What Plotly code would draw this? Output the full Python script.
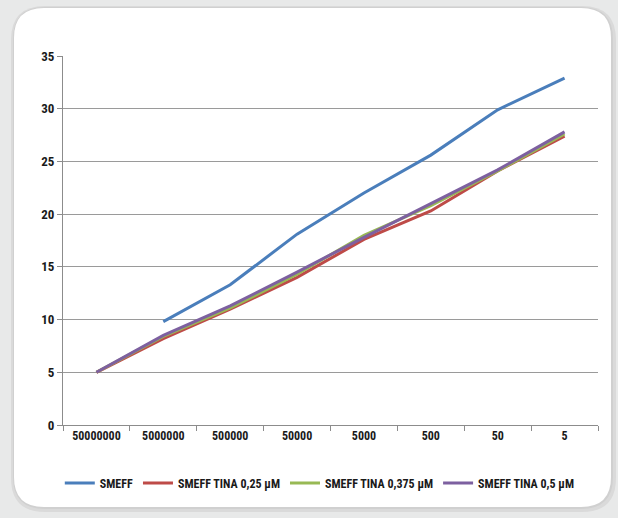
import plotly.graph_objects as go

categories = ["50000000", "5000000", "500000", "50000", "5000", "500", "50", "5"]
smeff = [None, 9.8, 13.3, 18.1, 22.0, 25.6, 29.9, 32.9]
tina_025 = [5.0, 8.2, 11.0, 14.0, 17.6, 20.3, 24.1, 27.4]
tina_0375 = [5.0, 8.4, 11.1, 14.3, 18.0, 20.8, 24.1, 27.6]
tina_05 = [5.0, 8.5, 11.3, 14.5, 17.8, 21.0, 24.2, 27.8]

series = [
    ("SMEFF", smeff, "#4A7EBB"),
    ("SMEFF TINA 0,25 µM", tina_025, "#BE4B48"),
    ("SMEFF TINA 0,375 µM", tina_0375, "#98B954"),
    ("SMEFF TINA 0,5 µM", tina_05, "#7D60A0"),
]

FONT = "Liberation Sans Narrow, Arial Narrow, Roboto Condensed, Roboto, sans-serif"

fig = go.Figure()
for name, vals, col in series:
    fig.add_trace(go.Scatter(x=categories, y=vals, name=name, mode="lines",
                             line=dict(color=col, width=3), connectgaps=False))

# plot area in pixels
L, R, T, B = 63, 598, 56, 425
W, H = R - L, B - T

def px(x):
    return (x - L) / W

def py(y):
    return (B - y) / H

def rounded(x0, y0, x1, y1, r):
    pts = []
    pts.append(f"M {px(x0 + r)} {py(y0)}")
    pts.append(f"L {px(x1 - r)} {py(y0)}")
    pts.append(f"Q {px(x1)} {py(y0)} {px(x1)} {py(y0 + r)}")
    pts.append(f"L {px(x1)} {py(y1 - r)}")
    pts.append(f"Q {px(x1)} {py(y1)} {px(x1 - r)} {py(y1)}")
    pts.append(f"L {px(x0 + r)} {py(y1)}")
    pts.append(f"Q {px(x0)} {py(y1)} {px(x0)} {py(y1 - r)}")
    pts.append(f"L {px(x0)} {py(y0 + r)}")
    pts.append(f"Q {px(x0)} {py(y0)} {px(x0 + r)} {py(y0)}")
    pts.append("Z")
    return " ".join(pts)

shapes = [
    dict(type="path", xref="paper", yref="paper", layer="below",
         path=rounded(11, 6, 616, 512, 34), fillcolor="#dadada", line=dict(width=0)),
    dict(type="path", xref="paper", yref="paper", layer="below",
         path=rounded(13, 7, 613, 509, 32), fillcolor="#d0d0d0", line=dict(width=0)),
    dict(type="path", xref="paper", yref="paper", layer="below",
         path=rounded(14, 8, 611, 507, 30), fillcolor="#ffffff", line=dict(width=0)),
]

fig.update_layout(
    width=618, height=518,
    margin=dict(l=L, r=618 - R, t=T, b=518 - B),
    paper_bgcolor="#e8e9e9",
    plot_bgcolor="rgba(0,0,0,0)",
    shapes=shapes,
    font=dict(family=FONT, size=12, color="#1a1a1a", weight="bold"),
    showlegend=True,
    legend=dict(orientation="h", x=0.48, xanchor="center", y=-0.157, yanchor="middle",
                font=dict(family=FONT, size=12, color="#1a1a1a", weight="bold"),
                itemwidth=30, tracegroupgap=0, bgcolor="rgba(0,0,0,0)"),
    xaxis=dict(type="category", tickson="boundaries", ticks="outside", ticklen=5,
               tickcolor="#8c8c8c", showline=True, linecolor="#8c8c8c", linewidth=1,
               showgrid=False, range=[-0.5, 7.5],
               tickfont=dict(family=FONT, size=12, color="#1a1a1a", weight="bold")),
    yaxis=dict(range=[0, 35], tickvals=[0, 5, 10, 15, 20, 25, 30, 35], ticks="outside",
               ticklen=5, tickcolor="#8c8c8c", showline=True, linecolor="#8c8c8c",
               linewidth=1, showgrid=True, gridcolor="#9a9a9a", gridwidth=1,
               zeroline=False,
               tickfont=dict(family=FONT, size=13, color="#1a1a1a", weight="bold")),
)

fig.write_html("out.html", config={"displayModeBar": False},
               post_script="document.body.style.margin='0';document.body.style.overflow='hidden';")
